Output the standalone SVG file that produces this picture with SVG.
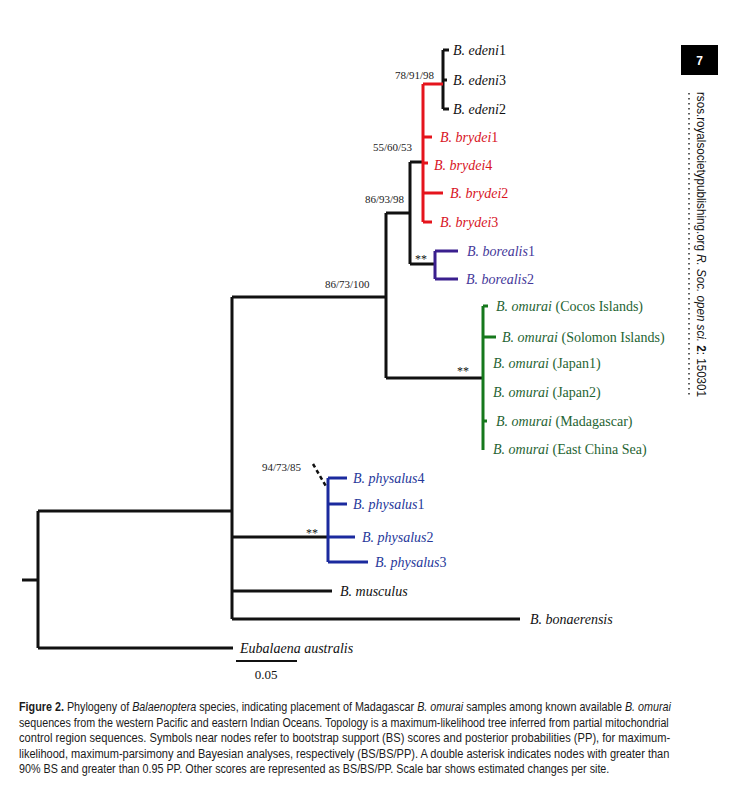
<svg xmlns="http://www.w3.org/2000/svg" width="756" height="791" viewBox="0 0 756 791">
<style>
.br{fill:none;stroke:#111;stroke-width:3}
.red{fill:none;stroke:#e5141c;stroke-width:3}
.pur{fill:none;stroke:#3a1f8e;stroke-width:3}
.grn{fill:none;stroke:#16781c;stroke-width:3}
.blu{fill:none;stroke:#1b2a9e;stroke-width:3}
.lf{font-family:"Liberation Serif","Times New Roman",serif;font-size:14px;font-style:italic}
.lf .n{font-style:normal}
.sp{font-family:"Liberation Serif","Times New Roman",serif;font-size:11px;fill:#222}
.ast{font-family:"Liberation Serif",serif;font-size:12px;fill:#111}
.cap{font-family:"Liberation Sans",Arial,sans-serif;font-size:12.5px;fill:#1a1a1a}
.cap .i{font-style:italic}
.cap .b{font-weight:bold}
</style>
<rect width="756" height="791" fill="#fff"/>
<g id="connectors">
<path class="br" d="M22,580H38M38,511V648M38,511H232M38,648H233M232,297V619M232,297H386M386,213V378M386,213H410M410,162V264M410,162H423M410,264H435M386,378H483M232,537H328M232,591H332M232,619H520M443,50V109M443,50H449M443,80H447M443,109H449"/>
<path class="red" d="M423,84V222M423,84H443M423,137H432M423,163H428M423,193H443M423,222H432"/>
<path class="pur" d="M435,251V279M435,251H458M435,279H458"/>
<path class="grn" d="M483,306V450M483,306H488M483,337H496M483,421H487"/>
<path class="blu" d="M328,478V562M328,478H347M328,504H347M328,537H355M328,562H368"/>
<path d="M313,464L327,488" stroke="#111" stroke-width="2.5" stroke-dasharray="4 3" fill="none"/>
</g>
<g id="edeni" class="lf" fill="#111">
<text x="453" y="55">B. edeni<tspan class="n">1</tspan></text>
<text x="453" y="85">B. edeni<tspan class="n">3</tspan></text>
<text x="453" y="114">B. edeni<tspan class="n">2</tspan></text>
</g>
<g id="brydei" class="lf" fill="#d8141e">
<text x="440" y="142">B. brydei<tspan class="n">1</tspan></text>
<text x="434" y="170">B. brydei<tspan class="n">4</tspan></text>
<text x="450" y="198">B. brydei<tspan class="n">2</tspan></text>
<text x="440" y="227">B. brydei<tspan class="n">3</tspan></text>
</g>
<g id="borealis" class="lf" fill="#45389a">
<text x="467" y="256">B. borealis<tspan class="n">1</tspan></text>
<text x="466" y="284">B. borealis<tspan class="n">2</tspan></text>
</g>
<g id="omurai" class="lf" fill="#1f6433">
<text x="496" y="311">B. omurai <tspan class="n">(Cocos Islands)</tspan></text>
<text x="502" y="342">B. omurai <tspan class="n">(Solomon Islands)</tspan></text>
<text x="493" y="368">B. omurai <tspan class="n">(Japan1)</tspan></text>
<text x="493" y="397">B. omurai <tspan class="n">(Japan2)</tspan></text>
<text x="496" y="426">B. omurai <tspan class="n">(Madagascar)</tspan></text>
<text x="493" y="454">B. omurai <tspan class="n">(East China Sea)</tspan></text>
</g>
<g id="physalus" class="lf" fill="#26389a">
<text x="353" y="483">B. physalus<tspan class="n">4</tspan></text>
<text x="353" y="509">B. physalus<tspan class="n">1</tspan></text>
<text x="362" y="542">B. physalus<tspan class="n">2</tspan></text>
<text x="375" y="567">B. physalus<tspan class="n">3</tspan></text>
</g>
<g id="outgroups" class="lf" fill="#111">
<text x="340" y="596">B. musculus</text>
<text x="530" y="624">B. bonaerensis</text>
<text x="240" y="653">Eubalaena australis</text>
</g>
<g id="support">
<text class="sp" x="395" y="79">78/91/98</text>
<text class="sp" x="373" y="151">55/60/53</text>
<text class="sp" x="365" y="203">86/93/98</text>
<text class="sp" x="325" y="288">86/73/100</text>
<text class="sp" x="262" y="471">94/73/85</text>
<text class="ast" x="415" y="263">**</text>
<text class="ast" x="457" y="375">**</text>
<text class="ast" x="306" y="537">**</text>
</g>
<g id="scalebar">
<path d="M236,661H297" stroke="#111" stroke-width="2"/>
<text x="266" y="679" text-anchor="middle" font-family="Liberation Serif,serif" font-size="13" fill="#111">0.05</text>
</g>
<g id="header">
<rect x="681" y="45" width="37" height="30" fill="#000"/>
<text x="699.5" y="65" text-anchor="middle" font-family="Liberation Sans,Arial,sans-serif" font-size="12" font-weight="bold" fill="#fff">7</text>
<path d="M689,93V395" stroke="#333" stroke-width="1.6" stroke-dasharray="1.5 3.5"/>
<text transform="translate(697,92) rotate(90)" font-family="Liberation Sans,Arial,sans-serif" font-size="13" fill="#111" textLength="305" lengthAdjust="spacingAndGlyphs">rsos.royalsocietypublishing.org  <tspan font-style="italic">R. Soc. open sci.</tspan> <tspan font-weight="bold">2</tspan>: 150301</text>
</g>
<g id="caption" class="cap">
<text transform="translate(19,711) scale(0.863,1)"><tspan class="b">Figure 2.</tspan> Phylogeny of <tspan class="i">Balaenoptera</tspan> species, indicating placement of Madagascar <tspan class="i">B. omurai</tspan> samples among known available <tspan class="i">B. omurai</tspan></text>
<text transform="translate(19,726.5) scale(0.857,1)">sequences from the western Pacific and eastern Indian Oceans. Topology is a maximum-likelihood tree inferred from partial mitochondrial</text>
<text transform="translate(19,742) scale(0.891,1)">control region sequences. Symbols near nodes refer to bootstrap support (BS) scores and posterior probabilities (PP), for maximum-</text>
<text transform="translate(19,757.5) scale(0.883,1)">likelihood, maximum-parsimony and Bayesian analyses, respectively (BS/BS/PP). A double asterisk indicates nodes with greater than</text>
<text transform="translate(19,773) scale(0.86,1)">90% BS and greater than 0.95 PP. Other scores are represented as BS/BS/PP. Scale bar shows estimated changes per site.</text>
</g>
</svg>
